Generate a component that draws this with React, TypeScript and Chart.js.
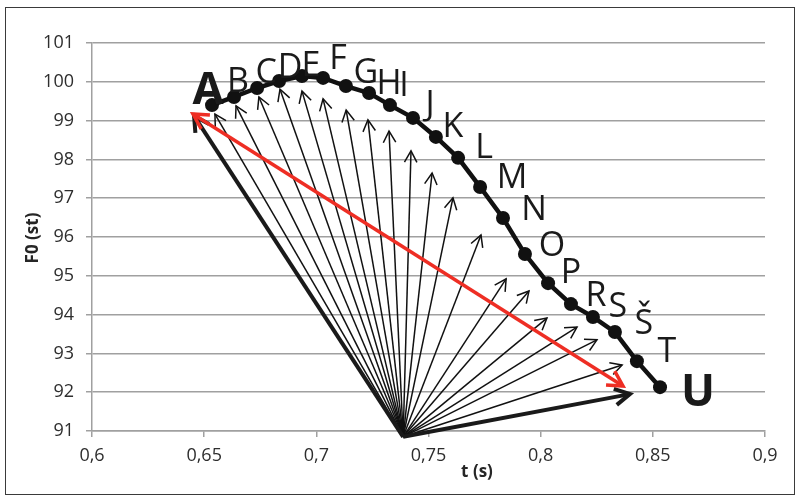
import React, { useEffect, useRef } from "react";
import { Chart, registerables } from "chart.js";

Chart.register(...registerables);

// ---- data ----
const pointLabels = ["A", "B", "C", "D", "E", "F", "G", "H", "I", "J", "K", "L", "M", "N", "O", "P", "R", "S", "Š", "T", "U"];
const tValues = [0.6535, 0.6633, 0.6736, 0.6834, 0.6936, 0.703, 0.7132, 0.7235, 0.7328, 0.7431, 0.7533, 0.7632, 0.773, 0.7832, 0.793, 0.8033, 0.8135, 0.8233, 0.8331, 0.8429, 0.8532];
const f0Values = [99.4, 99.61, 99.84, 100.02, 100.15, 100.1, 99.89, 99.71, 99.4, 99.07, 98.58, 98.04, 97.29, 96.49, 95.56, 94.81, 94.27, 93.94, 93.55, 92.8, 92.13];

// common origin of the arrows
const originT = 0.7387;
const originF = 90.85;

// tips of the thin arrows (towards B ... T)
const thinTipT = [0.6548, 0.6642, 0.6744, 0.6838, 0.6936, 0.703, 0.7133, 0.723, 0.7324, 0.7422, 0.7516, 0.7609, 0.7734, 0.7846, 0.7948, 0.8028, 0.8162, 0.8251, 0.8363];
const thinTipF = [99.17, 99.38, 99.61, 99.81, 99.76, 99.56, 99.27, 99.02, 98.73, 98.22, 97.65, 97.01, 96.05, 94.92, 94.61, 93.91, 93.68, 93.35, 92.7];

// tips of the two thick black arrows (towards A and towards U)
const boldTipT = [0.6455, 0.8398];
const boldTipF = [99.12, 91.95];

// red double-headed arrow ends
const redEndT = [0.645, 0.8367];
const redEndF = [99.17, 92.16];

const xTicks = [0.6, 0.65, 0.7, 0.75, 0.8, 0.85, 0.9];
const yMin = 91;
const yMax = 101;

// ---- layout / style (pixel nudges of letter labels, not data) ----
const labelNudgeX = [-4, 4, 9, 11, 9, 15, 20, 20, 14, 17, 17, 26, 32, 31, 27, 23, 25, 25, 29, 30, 38];
const labelNudgeY = [-17, -17, -17, -15, -12, -21, -15, -11, -21, -15, -12, -12, -11, -10, -10, -12, -10, -12, -10, -11, 3];

const FONT = '"Open Sans", "DejaVu Sans", sans-serif';

function drawHead(ctx: CanvasRenderingContext2D, x1: number, y1: number, x2: number, y2: number, len: number, ang: number) {
  const a = Math.atan2(y2 - y1, x2 - x1);
  ctx.beginPath();
  ctx.moveTo(x2 - len * Math.cos(a - ang), y2 - len * Math.sin(a - ang));
  ctx.lineTo(x2, y2);
  ctx.lineTo(x2 - len * Math.cos(a + ang), y2 - len * Math.sin(a + ang));
  ctx.stroke();
}

function drawArrow(ctx: CanvasRenderingContext2D, x1: number, y1: number, x2: number, y2: number, color: string, width: number, len: number, ang: number, both: boolean) {
  ctx.strokeStyle = color;
  ctx.lineWidth = width;
  ctx.lineCap = "butt";
  ctx.lineJoin = "miter";
  ctx.beginPath();
  ctx.moveTo(x1, y1);
  ctx.lineTo(x2, y2);
  ctx.stroke();
  drawHead(ctx, x1, y1, x2, y2, len, ang);
  if (both) drawHead(ctx, x2, y2, x1, y1, len, ang);
}

const framePlugin = {
  id: "frame",
  beforeDraw(chart: any) {
    const ctx = chart.ctx;
    ctx.save();
    ctx.fillStyle = "#ffffff";
    ctx.fillRect(0, 0, chart.width, chart.height);
    ctx.strokeStyle = "#3a3a3a";
    ctx.lineWidth = 1;
    ctx.strokeRect(5.5, 7.5, 789, 487);
    ctx.restore();
  },
};

const arrowsPlugin = {
  id: "arrows",
  beforeDatasetsDraw(chart: any) {
    const { ctx, scales } = chart;
    const x = scales.x;
    const y = scales.y;
    const ox = x.getPixelForValue(originT);
    const oy = y.getPixelForValue(originF);
    ctx.save();
    for (let i = 0; i < thinTipT.length; i++) {
      drawArrow(ctx, ox, oy, x.getPixelForValue(thinTipT[i]), y.getPixelForValue(thinTipF[i]), "#111", 1.5, 13, 0.5, false);
    }
    for (let i = 0; i < boldTipT.length; i++) {
      drawArrow(ctx, ox, oy, x.getPixelForValue(boldTipT[i]), y.getPixelForValue(boldTipF[i]), "#1a1a1a", 4, 17, 0.5, false);
    }
    drawArrow(
      ctx,
      x.getPixelForValue(redEndT[0]),
      y.getPixelForValue(redEndF[0]),
      x.getPixelForValue(redEndT[1]),
      y.getPixelForValue(redEndF[1]),
      "#ee2e24",
      3.5,
      17,
      0.5,
      true
    );
    ctx.restore();
  },
};

const lettersPlugin = {
  id: "letters",
  afterDatasetsDraw(chart: any) {
    const { ctx, scales } = chart;
    const x = scales.x;
    const y = scales.y;
    ctx.save();
    ctx.fillStyle = "#1a1a1a";
    ctx.textAlign = "center";
    ctx.textBaseline = "alphabetic";
    const last = pointLabels.length - 1;
    for (let i = 0; i < pointLabels.length; i++) {
      const big = i === 0 || i === last;
      const size = big ? 45 : 34;
      ctx.font = (big ? "bold " : "500 ") + size + "px " + FONT;
      const px = x.getPixelForValue(tValues[i]) + labelNudgeX[i];
      const py = y.getPixelForValue(f0Values[i]) + labelNudgeY[i] + size * 0.357;
      ctx.fillText(pointLabels[i], px, py);
    }
    // axis titles
    ctx.fillStyle = "#262626";
    ctx.font = "bold 17px " + FONT;
    ctx.textBaseline = "middle";
    ctx.fillText("t (s)", 477, 472);
    ctx.translate(33, 238);
    ctx.rotate(-Math.PI / 2);
    ctx.fillText("F0 (st)", 0, 0);
    ctx.restore();
  },
};

export default function App() {
  const canvasRef = useRef<HTMLCanvasElement | null>(null);

  useEffect(() => {
    document.body.style.margin = "0";
    const canvas = canvasRef.current;
    if (!canvas) return;
    const gridColor = "#a0a0a0";
    const chart = new Chart(canvas, {
      type: "scatter",
      data: {
        datasets: [
          {
            label: "F0",
            data: tValues.map((t, i) => ({ x: t, y: f0Values[i] })),
            showLine: true,
            borderColor: "#111",
            borderWidth: 4.5,
            backgroundColor: "#111",
            pointBackgroundColor: "#111",
            pointBorderColor: "#111",
            pointRadius: 7,
            pointBorderWidth: 0,
            tension: 0,
            clip: false as any,
          },
        ],
      },
      options: {
        animation: false,
        responsive: true,
        maintainAspectRatio: false,
        events: [],
        layout: { padding: { top: 43, right: 35, left: 0, bottom: 0 } },
        plugins: {
          legend: { display: false },
          tooltip: { enabled: false },
          title: { display: false },
        },
        scales: {
          x: {
            type: "linear",
            min: 0.6,
            max: 0.9,
            afterBuildTicks: (scale: any) => {
              scale.ticks = xTicks.map((v) => ({ value: v }));
            },
            afterFit: (scale: any) => {
              scale.height = 68;
            },
            ticks: {
              callback: (v: any) => String(Math.round(Number(v) * 100) / 100).replace(".", ","),
              color: "#2e2e2e",
              font: { family: FONT, size: 18 },
              padding: 8,
              maxRotation: 0,
            },
            grid: { drawOnChartArea: false, drawTicks: true, tickLength: 6, color: gridColor, lineWidth: 1.5 },
            border: { display: true, color: gridColor, width: 1.5 },
          },
          y: {
            type: "linear",
            min: yMin,
            max: yMax,
            afterFit: (scale: any) => {
              scale.width = 92;
            },
            ticks: {
              stepSize: 1,
              color: "#2e2e2e",
              font: { family: FONT, size: 18 },
              padding: 12,
            },
            grid: { drawOnChartArea: true, drawTicks: true, tickLength: 6, color: gridColor, lineWidth: 1.5 },
            border: { display: true, color: gridColor, width: 1.5 },
          },
        },
      },
      plugins: [framePlugin, arrowsPlugin, lettersPlugin],
    });
    return () => chart.destroy();
  }, []);

  return (
    <div style={{ position: "relative", width: 800, height: 499 }}>
      <canvas ref={canvasRef} />
    </div>
  );
}
